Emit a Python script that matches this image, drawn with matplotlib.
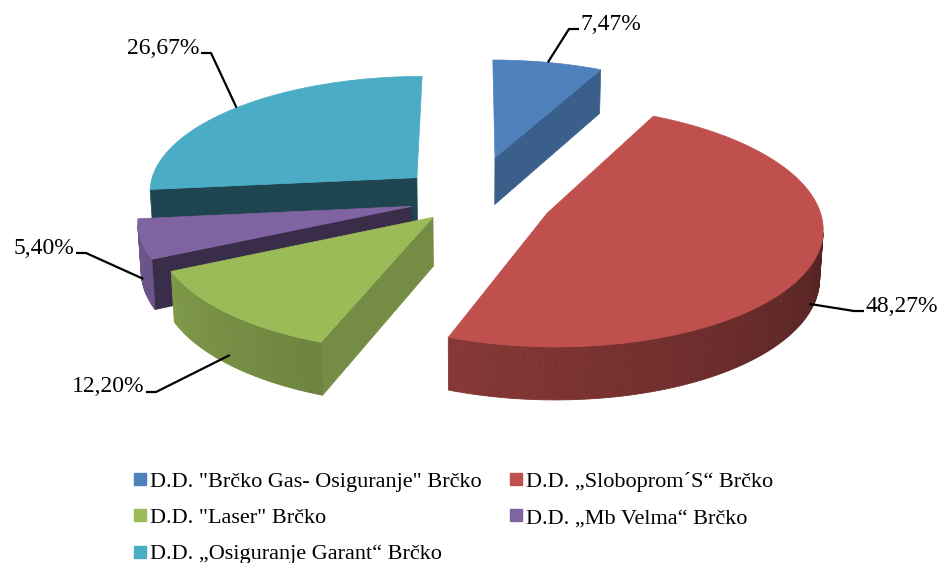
import numpy as np
import matplotlib.pyplot as plt
from matplotlib.patches import Polygon
from matplotlib.lines import Line2D
from matplotlib.colors import to_rgb

# podaci
companies = ['D.D. "Brčko Gas- Osiguranje" Brčko', 'D.D. „Sloboprom´S“ Brčko',
             'D.D. "Laser" Brčko', 'D.D. „Mb Velma“ Brčko',
             'D.D. „Osiguranje Garant“ Brčko']
shares = [7.47, 48.27, 12.20, 5.40, 26.67]
pct_labels = ['7,47%', '48,27%', '12,20%', '5,40%', '26,67%']
colors = ['#4F81BD', '#C0504D', '#9BBB59', '#8064A2', '#4BACC6']
explode = [0.38, 0.30, 0.21, 0.23, 0.28]

# kamera (perspektiva)
el = np.radians(25.5)
D = 8.5
f = 2295
H = 0.2
u0, v0 = 472, 199
cam = np.array([0, -D * np.cos(el), D * np.sin(el)])


def proj(X, Y, Z):
    X, Y, Z = np.asarray(X, float), np.asarray(Y, float), np.asarray(Z, float)
    depth = D + Y * np.cos(el) - Z * np.sin(el)
    u = f * X / depth
    v = f * (Y * np.sin(el) + Z * np.cos(el)) / depth
    return np.column_stack([u0 + u, v0 - v]) if u.ndim else np.array([u0 + u, v0 - v])


def visible(pt, n):
    return np.dot(cam - pt, n) > 0


def shade(c, k):
    return tuple(np.clip(np.array(to_rgb(c)) * k, 0, 1))


def radial_k(n_ang):
    return 0.4 + 0.35 * max(0, np.cos(np.radians(n_ang + 20))) ** 5.7


def arc_k(n_ang):
    a = (n_ang + 180) % 360 - 180
    return np.clip(0.70 - 0.0027 * (a + 110), 0.38, 0.88)


fig = plt.figure(figsize=(9.45, 5.63), dpi=100)
ax = fig.add_axes([0, 0, 1, 1])
ax.set_xlim(0, 945)
ax.set_ylim(563, 0)
ax.axis('off')

# kutovi (kreće od 12 sati, u smjeru kazaljke)
fr = np.array(shares) / sum(shares) * 360
starts = 90 - np.concatenate([[0], np.cumsum(fr)[:-1]])
ends = starts - fr
mids = (starts + ends) / 2

slices = []
for i in range(len(shares)):
    m = np.radians(mids[i])
    off = explode[i] * np.array([np.cos(m), np.sin(m)])
    cy = off[1] + 0.65 * np.sin(m)
    slices.append((cy, i, off))
slices.sort(key=lambda s: -s[0])

anchors = {}
for _, i, off in slices:
    a0, a1 = starts[i], ends[i]
    th = np.radians(np.linspace(a0, a1, max(int(abs(a0 - a1)), 2) + 1))
    ox, oy = off
    rx, ry = ox + np.cos(th), oy + np.sin(th)
    col = colors[i]

    # radijalne stranice
    for a, sgn in ((a0, 1), (a1, -1)):
        ar = np.radians(a)
        n_ang = a + 90 * sgn
        n = np.array([np.cos(np.radians(n_ang)), np.sin(np.radians(n_ang)), 0])
        mid = np.array([ox + 0.5 * np.cos(ar), oy + 0.5 * np.sin(ar), -H / 2])
        if visible(mid, n) and np.dot(cam - mid, n) > 0.3:
            X = [ox, ox + np.cos(ar), ox + np.cos(ar), ox]
            Y = [oy, oy + np.sin(ar), oy + np.sin(ar), oy]
            Z = [0, 0, -H, -H]
            c = shade(col, radial_k(n_ang))
            ax.add_patch(Polygon(proj(X, Y, Z), closed=True, fc=c, ec=c, lw=0.5))

    # vanjski luk
    for j in range(len(th) - 1):
        tm = (th[j] + th[j + 1]) / 2
        n = np.array([np.cos(tm), np.sin(tm), 0])
        pt = np.array([ox + np.cos(tm), oy + np.sin(tm), -H / 2])
        if visible(pt, n):
            X = [rx[j], rx[j + 1], rx[j + 1], rx[j]]
            Y = [ry[j], ry[j + 1], ry[j + 1], ry[j]]
            Z = [0, 0, -H, -H]
            c = shade(col, arc_k(np.degrees(tm)))
            ax.add_patch(Polygon(proj(X, Y, Z), closed=True, fc=c, ec=c, lw=0.6))

    # gornja ploha
    X = np.concatenate([[ox], rx])
    Y = np.concatenate([[oy], ry])
    ax.add_patch(Polygon(proj(X, Y, np.zeros_like(X)), closed=True, fc=col, ec=col, lw=0.5))

    m = np.radians(mids[i])
    zz = 0 if np.sin(m) > 0 else -H * 0.8
    anchors[i] = proj(ox + np.cos(m), oy + np.sin(m), zz)

# oznake postotaka s linijama
lab_pos = {0: (581, 24, 'left'), 1: (866, 306, 'left'), 2: (144, 387, 'right'),
           3: (74, 248, 'right'), 4: (199, 48, 'right')}
for i, (tx, ty, ha) in lab_pos.items():
    axp, ayp = anchors[i]
    knee = tx - 12 if ha == 'left' else tx + 12
    end = tx - 2 if ha == 'left' else tx + 2
    ax.plot([axp, knee, end], [ayp, ty + 5, ty + 5],
            color='black', lw=1.6, solid_capstyle='butt')
    ax.text(tx, ty, pct_labels[i], ha=ha, va='center', fontsize=17,
            family='Liberation Serif', color='black')

# legenda
order = [0, 2, 4, 1, 3]
handles = [Line2D([], [], marker='s', ls='', color=colors[k], markersize=8) for k in order]
fig.legend(handles, [companies[k] for k in order], ncol=2, frameon=False,
           loc='upper left', bbox_to_anchor=(0.125, 0.19), handlelength=0.6,
           handletextpad=0.15, columnspacing=1.25, labelspacing=0.7,
           borderpad=0.2, prop={'family': 'Liberation Serif', 'size': 16})

fig.savefig('out.png', dpi=100)
